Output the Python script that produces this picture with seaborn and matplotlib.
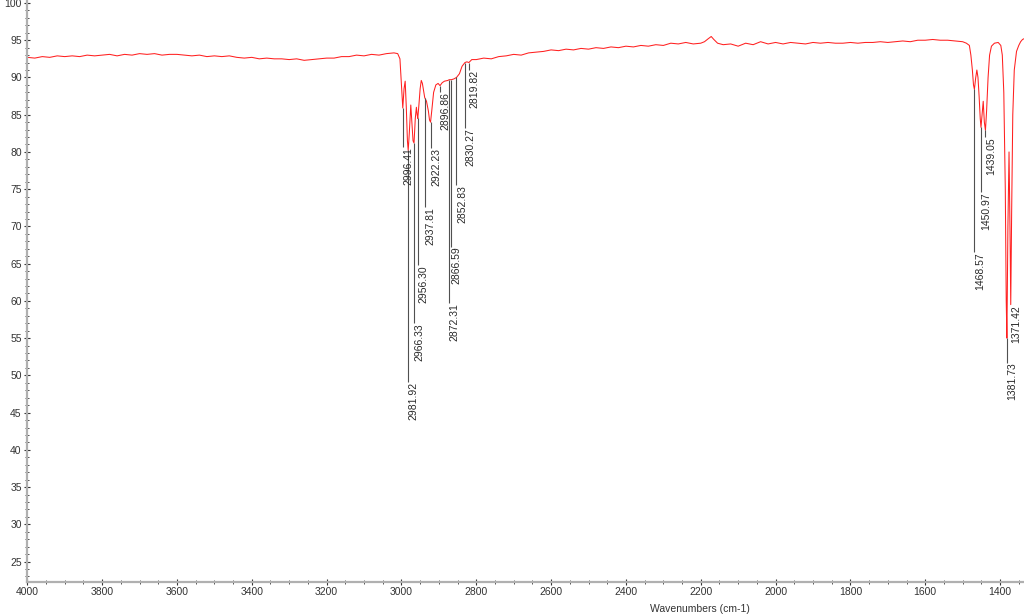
import matplotlib
matplotlib.use("Agg")
import matplotlib.pyplot as plt
import matplotlib.transforms as mtransforms
from matplotlib.ticker import MultipleLocator
import pandas as pd
import seaborn as sns

# ---- spectrum data (wavenumber cm-1, %T) ----
wavenumber = [
    4000, 3980, 3960, 3940, 3920, 3900, 3880, 3860, 3840, 3820,
    3800, 3780, 3760, 3740, 3720, 3700, 3680, 3660, 3640, 3620,
    3600, 3580, 3560, 3540, 3520, 3500, 3480, 3460, 3440, 3420,
    3400, 3380, 3360, 3340, 3320, 3300, 3280, 3260, 3240, 3220,
    3200, 3180, 3160, 3140, 3120, 3100, 3080, 3060, 3040, 3020, 3010,
    3004, 3000, 2996.41, 2993, 2990, 2987, 2984, 2981.92, 2979, 2975, 2972,
    2969, 2966.33, 2963, 2960, 2958, 2956.30, 2953, 2950, 2947, 2944, 2940,
    2937.81, 2933, 2928, 2925, 2922.23, 2919, 2914, 2908, 2902, 2896.86,
    2891, 2885, 2876, 2872.31, 2866.59, 2860, 2852.83, 2845, 2838, 2830.27,
    2825, 2819.82, 2812,
    2800, 2780, 2760, 2740, 2720, 2700, 2680, 2660, 2640, 2620,
    2600, 2580, 2560, 2540, 2520, 2500, 2480, 2460, 2440, 2420,
    2400, 2380, 2360, 2340, 2320, 2300, 2280, 2260, 2240, 2220,
    2200, 2190, 2180, 2172, 2165, 2155, 2140, 2120, 2100, 2080,
    2060, 2040, 2020, 2000, 1980, 1960, 1940, 1920, 1900, 1880,
    1860, 1840, 1820, 1800, 1780, 1760, 1740, 1720, 1700, 1680,
    1660, 1640, 1620, 1600, 1580, 1560, 1540, 1520, 1500,
    1490, 1482, 1478, 1474, 1471, 1468.57, 1465, 1462, 1459, 1456, 1453,
    1450.97, 1448, 1445, 1442, 1439.05, 1436, 1432, 1428, 1423, 1415, 1405,
    1398, 1394, 1390, 1386, 1383.5, 1381.73, 1379, 1376, 1373.5, 1371.42,
    1369, 1366, 1362, 1356, 1350, 1345, 1340, 1336,
]
transmittance = [
    92.7, 92.6, 92.8, 92.7, 92.9, 92.8, 92.9, 92.8, 93.0, 92.9,
    93.0, 93.1, 92.9, 93.1, 93.0, 93.2, 93.1, 93.2, 93.0, 93.1,
    93.1, 93.0, 92.9, 93.0, 92.8, 92.9, 92.8, 92.9, 92.7, 92.6,
    92.7, 92.5, 92.6, 92.5, 92.5, 92.4, 92.5, 92.3, 92.4, 92.5,
    92.6, 92.6, 92.8, 92.8, 93.0, 92.9, 93.1, 93.0, 93.2, 93.3, 93.2,
    92.5, 89.0, 85.9, 88.5, 89.5, 86.0, 81.5, 80.2, 82.5, 86.3, 84.0,
    81.5, 81.2, 84.5, 86.0, 85.0, 84.5, 86.5, 88.5, 89.6, 89.2, 88.0,
    87.3, 86.8, 85.5, 84.3, 84.0, 85.5, 88.0, 89.0, 89.2, 88.9,
    89.3, 89.5, 89.6, 89.7, 89.7, 89.8, 90.0, 90.5, 91.5, 92.0,
    92.1, 92.0, 92.4,
    92.4, 92.6, 92.5, 92.8, 92.9, 93.1, 93.0, 93.3, 93.4, 93.5,
    93.7, 93.6, 93.8, 93.7, 93.9, 93.8, 94.0, 93.9, 94.1, 94.0,
    94.2, 94.1, 94.3, 94.2, 94.4, 94.3, 94.6, 94.5, 94.7, 94.5,
    94.6, 94.8, 95.2, 95.5, 95.1, 94.6, 94.4, 94.5, 94.2, 94.6,
    94.4, 94.8, 94.5, 94.7, 94.5, 94.7, 94.6, 94.5, 94.7, 94.6,
    94.7, 94.6, 94.6, 94.7, 94.6, 94.7, 94.7, 94.8, 94.7, 94.8,
    94.9, 94.8, 95.0, 95.0, 95.1, 95.0, 95.0, 94.9, 94.8,
    94.6, 94.3, 93.0, 91.0, 89.0, 88.4, 90.0, 91.0, 90.0, 87.5, 84.5,
    83.3, 85.0, 86.8, 84.0, 82.9, 85.5, 90.0, 93.0, 94.2, 94.6, 94.7,
    94.3, 93.0, 88.0, 75.0, 60.0, 55.0, 70.0, 80.0, 70.0, 59.5,
    72.0, 85.0, 91.0, 93.5, 94.3, 94.8, 95.1, 95.2,
]

# ---- peak labels ----
peak_wn = [2996.41, 2981.92, 2966.33, 2956.30, 2937.81, 2922.23, 2896.86,
           2872.31, 2866.59, 2852.83, 2830.27, 2819.82,
           1468.57, 1450.97, 1439.05, 1381.73, 1371.42]
peak_top = [85.9, 80.2, 81.2, 84.5, 87.3, 84.0, 88.9,
            89.7, 89.7, 90.0, 92.0, 92.0,
            88.4, 83.3, 82.9, 55.0, 59.5]
label_y = [80.6, 49.1, 57.0, 64.8, 72.6, 80.5, 88.0,
           59.7, 67.3, 75.5, 83.2, 91.0,
           66.5, 74.6, 82.0, 51.7, 59.4]
peak_text = ["2996.41", "2981.92", "2966.33", "2956.30", "2937.81", "2922.23",
             "2896.86", "2872.31", "2866.59", "2852.83", "2830.27", "2819.82",
             "1468.57", "1450.97", "1439.05", "1381.73", "1371.42"]

x_ticks = [4000, 3800, 3600, 3400, 3200, 3000, 2800, 2600, 2400, 2200,
           2000, 1800, 1600, 1400]
y_ticks = [25, 30, 35, 40, 45, 50, 55, 60, 65, 70, 75, 80, 85, 90, 95, 100]
x_label = "Wavenumbers (cm-1)"

sns.set_theme(style="white")
plt.rcParams['font.family'] = ['Liberation Sans', 'DejaVu Sans']

W, H = 1024, 616
fig = plt.figure(figsize=(W / 100, H / 100), dpi=100)
ax = fig.add_axes([27.3 / W, (H - 581.7) / H, (W - 27.3) / W, 581.7 / H])

df = pd.DataFrame({"wn": wavenumber, "T": transmittance})
sns.lineplot(data=df, x="wn", y="T", ax=ax, color="#ff2020", linewidth=0.75,
             estimator=None, sort=False)

ax.set_xlim(4000, 1336)
ax.set_ylim(22.3, 100.4)

# label lines and texts
ax.vlines(peak_wn, label_y, peak_top, colors="#505050", linewidth=0.8)
offset = mtransforms.offset_copy(ax.transData, fig=fig, x=0.5, y=0, units="dots")
for wn, ly, t in zip(peak_wn, label_y, peak_text):
    ax.text(wn, ly, t, rotation=90, ha="left", va="top", fontsize=7.5,
            color="#2a2a2a", transform=offset)

ax.set_xticks(x_ticks)
ax.set_yticks(y_ticks)
ax.xaxis.set_minor_locator(MultipleLocator(50))
ax.yaxis.set_minor_locator(MultipleLocator(1))
ax.tick_params(axis="both", which="major", direction="inout", length=4,
               width=0.8, color="#333333", labelsize=7.5, labelcolor="#333333",
               left=True, bottom=True, pad=2)
ax.tick_params(axis="both", which="minor", direction="inout", length=2.5,
               width=0.6, color="#333333", left=True, bottom=True)

for s in ["top", "right"]:
    ax.spines[s].set_visible(False)
for s in ["left", "bottom"]:
    ax.spines[s].set_color("#b0b0b0")
    ax.spines[s].set_linewidth(1.6)

ax.set_xlabel(x_label, fontsize=7.5, color="#333333")
ax.set_ylabel("")
ax.xaxis.set_label_coords((700 - 27.3) / (W - 27.3), -0.038)

fig.savefig("out.png", dpi=100)
